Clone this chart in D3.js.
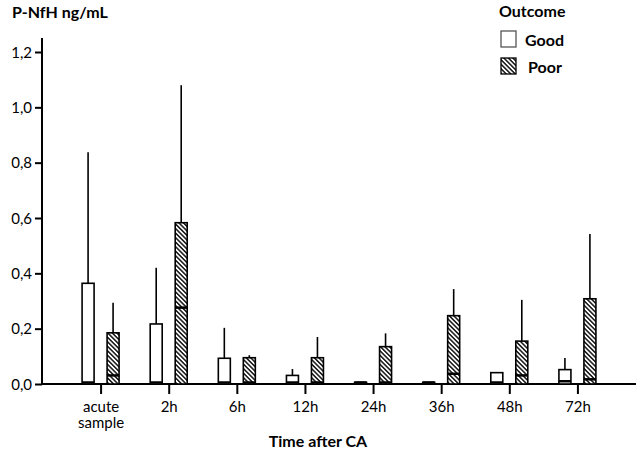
<!DOCTYPE html>
<html>
<head>
<meta charset="utf-8">
<script src="https://cdn.jsdelivr.net/npm/d3@7"></script>
<style>
  body { margin: 0; background: #fff; }
  text { font-family: Lato, "Open Sans", sans-serif; fill: #000; }
</style>
</head>
<body>
<div id="chart"></div>
<script>
// time points
var categories = ["acute sample", "2h", "6h", "12h", "24h", "36h", "48h", "72h"];
var outcomes = ["Good", "Poor"];
// box top (75th pct), median, whisker top
var goodTop    = [0.364, 0.217, 0.093, 0.031, 0.006, 0.006, 0.041, 0.052];
var goodMedian = [0.003, 0.005, 0.002, 0.001, 0.003, 0.003, 0.003, 0.010];
var goodWhisk  = [0.838, 0.420, 0.203, 0.054, 0.006, 0.006, 0.041, 0.094];
var poorTop    = [0.185, 0.583, 0.095, 0.095, 0.135, 0.247, 0.155, 0.308];
var poorMedian = [0.031, 0.276, 0.003, 0.002, 0.003, 0.037, 0.031, 0.017];
var poorWhisk  = [0.294, 1.080, 0.104, 0.170, 0.183, 0.343, 0.304, 0.542];
var yTicks = [0, 0.2, 0.4, 0.6, 0.8, 1.0, 1.2];

var width = 642, height = 456;
var svg = d3.select("#chart").append("svg")
  .attr("width", width).attr("height", height);

var defs = svg.append("defs");
var pat = defs.append("pattern")
  .attr("id", "hatch")
  .attr("patternUnits", "userSpaceOnUse")
  .attr("width", 3.2).attr("height", 3.2)
  .attr("patternTransform", "rotate(-45)");
pat.append("rect").attr("width", 3.2).attr("height", 3.2).attr("fill", "#fff");
pat.append("line").attr("x1", 0.8).attr("y1", 0).attr("x2", 0.8).attr("y2", 3.2)
  .attr("stroke", "#222").attr("stroke-width", 1.6);

var x = d3.scalePoint().domain(categories).range([42, 636]).padding(0.86);
var y = d3.scaleLinear().domain([0, 1.2]).range([384, 52]);
var sub = d3.scalePoint().domain(outcomes).range([-12.5, 12.5]);
var boxW = 12;

// y axis
var yAxis = svg.append("g").attr("transform", "translate(42,0)")
  .call(d3.axisLeft(y).tickValues(yTicks).tickSize(7).tickPadding(3)
    .tickFormat(function(d) { return d3.format(".1f")(d).replace(".", ","); }));
yAxis.select(".domain").remove();
yAxis.selectAll("line").attr("stroke", "#000").attr("stroke-width", 2);
yAxis.selectAll("text").style("font-size", "15px").attr("dy", "0.35em");
svg.append("line").attr("x1", 42).attr("x2", 42).attr("y1", 38).attr("y2", 385)
  .attr("stroke", "#000").attr("stroke-width", 2);

// x axis
var xAxis = svg.append("g").attr("transform", "translate(0,384)")
  .call(d3.axisBottom(x).tickSize(10).tickPadding(7));
xAxis.select(".domain").remove();
xAxis.selectAll("line").attr("stroke", "#000").attr("stroke-width", 2);
xAxis.selectAll("text").style("font-size", "15px").text(null)
  .each(function(d) {
    var t = d3.select(this);
    d.split(" ").forEach(function(w, i) {
      t.append("tspan").attr("x", 0).attr("dy", i === 0 ? "0.71em" : "1.1em").text(w);
    });
  });
svg.append("line").attr("x1", 41).attr("x2", 636).attr("y1", 384).attr("y2", 384)
  .attr("stroke", "#000").attr("stroke-width", 2);

// build rows
var rows = [];
categories.forEach(function(c, i) {
  rows.push({cat: c, out: "Good", top: goodTop[i], med: goodMedian[i], wh: goodWhisk[i]});
  rows.push({cat: c, out: "Poor", top: poorTop[i], med: poorMedian[i], wh: poorWhisk[i]});
});

var g = svg.append("g");
var box = g.selectAll("g.box").data(rows).enter().append("g").attr("class", "box")
  .attr("transform", function(d) { return "translate(" + (x(d.cat) + sub(d.out)) + ",0)"; });

box.append("line")
  .attr("x1", 0).attr("x2", 0)
  .attr("y1", function(d) { return y(d.top); })
  .attr("y2", function(d) { return y(d.wh); })
  .attr("stroke", "#000").attr("stroke-width", 1.6);

box.append("rect")
  .attr("x", -boxW / 2).attr("width", boxW)
  .attr("y", function(d) { return y(d.top); })
  .attr("height", function(d) { return Math.max(1, y(0) - y(d.top)); })
  .attr("fill", function(d) { return d.out === "Poor" ? "url(#hatch)" : "#fff"; })
  .attr("stroke", "#000").attr("stroke-width", 1.6);

box.append("line")
  .attr("x1", -boxW / 2).attr("x2", boxW / 2)
  .attr("y1", function(d) { return Math.min(y(d.med), 382.5); })
  .attr("y2", function(d) { return Math.min(y(d.med), 382.5); })
  .attr("stroke", "#000").attr("stroke-width", 2.5);

// titles
svg.append("text").attr("x", 12).attr("y", 18)
  .style("font-size", "16px").style("font-weight", "bold").text("P-NfH ng/mL");
svg.append("text").attr("x", 318).attr("y", 447).attr("text-anchor", "middle")
  .style("font-size", "16px").style("font-weight", "bold").text("Time after CA");

// legend
var leg = svg.append("g").attr("transform", "translate(499,0)");
leg.append("text").attr("x", 0).attr("y", 17)
  .style("font-size", "16px").style("font-weight", "bold").text("Outcome");
outcomes.forEach(function(o, i) {
  var yy = 31 + i * 27;
  leg.append("rect").attr("x", 2).attr("y", yy).attr("width", 15).attr("height", 16)
    .attr("fill", o === "Poor" ? "url(#hatch)" : "#fff")
    .attr("stroke", o === "Poor" ? "#000" : "#555").attr("stroke-width", 1.3);
  leg.append("text").attr("x", o === "Poor" ? 29 : 26).attr("y", yy + 15)
    .style("font-size", "16px").style("font-weight", "bold").text(o);
});
</script>
</body>
</html>
